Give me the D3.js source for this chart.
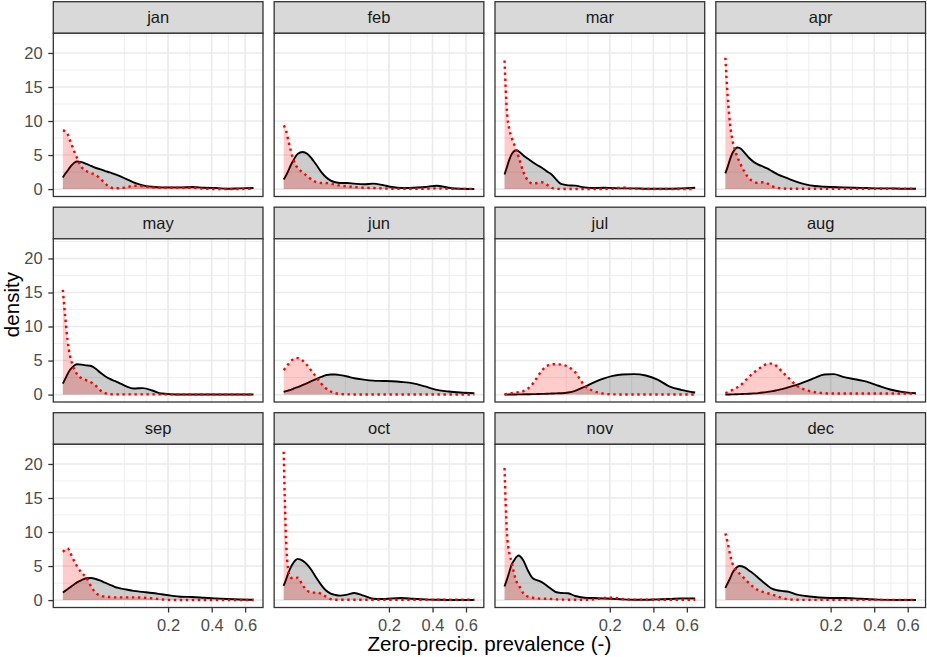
<!DOCTYPE html>
<html>
<head>
<meta charset="utf-8">
<script src="https://cdn.jsdelivr.net/npm/d3@7"></script>
<style>
  body { margin: 0; background: #fff; }
  text { font-family: "Liberation Sans", Arial, sans-serif; }
</style>
</head>
<body>
<script>
const months = ['jan', 'feb', 'mar', 'apr', 'may', 'jun', 'jul', 'aug', 'sep', 'oct', 'nov', 'dec'];

// x positions the densities were read at (zero-precip. prevalence)
const prevalence = [0, 0.0001, 0.0004, 0.0009, 0.0016, 0.0025, 0.0036, 0.0064, 0.01, 0.0144,
  0.0196, 0.0256, 0.0324, 0.04, 0.0484, 0.0576, 0.0729, 0.09, 0.1156, 0.1444,
  0.1764, 0.2116, 0.25, 0.3025, 0.36, 0.4225, 0.49, 0.5625, 0.6561];

const xTicks = [0.2, 0.4, 0.6];
const yTicks = [0, 5, 10, 15, 20];

// black solid curves, one list per month
const solidDensity = [
  [1.7, 2.25, 2.7, 3.2, 3.6, 3.9, 4.05, 3.95, 3.7, 3.4, 3.1, 2.9, 2.65, 2.45, 2.2, 1.95, 1.45, 1.0, 0.55, 0.35, 0.25, 0.25, 0.25, 0.3, 0.2, 0.15, 0.05, 0.1, 0.15],
  [1.4, 2.0, 2.7, 3.5, 4.15, 4.75, 5.2, 5.45, 5.2, 4.45, 3.5, 2.5, 1.75, 1.25, 1.0, 0.9, 0.9, 0.8, 0.7, 0.8, 0.6, 0.3, 0.15, 0.2, 0.3, 0.5, 0.2, 0.05, 0.02],
  [2.15, 3.2, 4.3, 5.1, 5.55, 5.7, 5.55, 4.95, 4.45, 3.95, 3.5, 3.1, 2.6, 2.15, 1.4, 0.75, 0.55, 0.5, 0.25, 0.15, 0.2, 0.15, 0.1, 0.1, 0.05, 0.05, 0.05, 0.1, 0.2],
  [2.3, 3.3, 4.4, 5.3, 5.8, 6.1, 6.05, 5.4, 4.6, 4.0, 3.6, 3.3, 3.0, 2.6, 2.2, 1.9, 1.5, 1.1, 0.7, 0.45, 0.35, 0.3, 0.25, 0.2, 0.15, 0.1, 0.1, 0.05, 0.05],
  [1.6, 2.3, 3.0, 3.6, 4.0, 4.3, 4.45, 4.4, 4.3, 4.2, 3.8, 3.2, 2.7, 2.3, 2.0, 1.7, 1.2, 0.9, 0.95, 0.6, 0.15, 0.05, 0.02, 0.02, 0.02, 0.02, 0.02, 0.02, 0.02],
  [0.4, 0.5, 0.6, 0.7, 0.85, 1.0, 1.1, 1.4, 1.7, 2.0, 2.3, 2.6, 2.85, 2.95, 2.95, 2.85, 2.65, 2.4, 2.2, 2.05, 2.0, 1.95, 1.85, 1.65, 1.2, 0.7, 0.45, 0.3, 0.2],
  [0, 0, 0.01, 0.01, 0.02, 0.02, 0.03, 0.04, 0.05, 0.06, 0.08, 0.1, 0.12, 0.15, 0.18, 0.2, 0.3, 0.55, 1.15, 1.8, 2.35, 2.75, 2.95, 3.0, 2.8, 2.2, 1.2, 0.7, 0.3],
  [0, 0.01, 0.02, 0.03, 0.04, 0.05, 0.07, 0.1, 0.13, 0.17, 0.22, 0.3, 0.4, 0.5, 0.65, 0.8, 1.1, 1.4, 1.9, 2.45, 2.95, 3.0, 2.6, 2.25, 1.9, 1.3, 0.75, 0.4, 0.2],
  [1.1, 1.35, 1.6, 1.85, 2.1, 2.35, 2.6, 2.95, 3.2, 3.25, 3.1, 2.85, 2.55, 2.25, 1.95, 1.75, 1.55, 1.35, 1.2, 1.05, 0.85, 0.65, 0.5, 0.45, 0.35, 0.25, 0.15, 0.08, 0.05],
  [2.1, 3.0, 4.0, 4.8, 5.4, 5.85, 6.05, 5.8, 5.2, 4.3, 3.2, 2.2, 1.4, 0.95, 0.75, 0.65, 0.8, 1.05, 0.65, 0.2, 0.15, 0.25, 0.3, 0.2, 0.1, 0.05, 0.02, 0.01, 0.01],
  [2.0, 3.0, 4.1, 5.2, 5.8, 6.3, 6.55, 5.8, 4.3, 3.2, 2.9, 2.6, 2.1, 1.6, 1.15, 1.05, 1.0, 0.6, 0.35, 0.3, 0.25, 0.2, 0.1, 0.05, 0.05, 0.1, 0.15, 0.25, 0.25],
  [1.8, 2.5, 3.2, 4.0, 4.5, 4.85, 5.0, 4.85, 4.35, 3.85, 3.25, 2.65, 2.1, 1.65, 1.45, 1.35, 1.2, 0.85, 0.6, 0.45, 0.35, 0.3, 0.3, 0.25, 0.15, 0.06, 0.03, 0.02, 0.02]
];

// red dotted curves, one list per month
const dottedDensity = [
  [8.6, 8.5, 8.1, 7.2, 6.3, 5.4, 4.6, 3.2, 2.65, 2.35, 2.05, 1.5, 0.8, 0.3, 0.1, 0.15, 0.25, 0.5, 0.4, 0.25, 0.2, 0.2, 0.2, 0.2, 0.05, 0.02, 0.02, 0.02, 0.05],
  [9.35, 8.6, 7.1, 5.7, 4.45, 3.6, 3.1, 2.45, 1.9, 1.35, 1.0, 0.9, 0.9, 0.8, 0.65, 0.5, 0.4, 0.3, 0.2, 0.15, 0.1, 0.05, 0.05, 0.05, 0.05, 0.1, 0.05, 0.03, 0.03],
  [18.9, 11.5, 8.85, 7.6, 6.65, 5.75, 4.7, 2.5, 1.25, 0.8, 0.9, 1.0, 0.65, 0.2, 0.03, 0.02, 0.02, 0.02, 0.02, 0.02, 0.02, 0.05, 0.25, 0.05, 0.02, 0.02, 0.02, 0.02, 0.02],
  [19.3, 13.5, 9.5, 7.2, 5.8, 4.8, 4.0, 2.6, 1.6, 1.1, 0.9, 1.0, 0.8, 0.4, 0.2, 0.1, 0.05, 0.05, 0.05, 0.05, 0.05, 0.05, 0.05, 0.05, 0.05, 0.05, 0.05, 0.05, 0.05],
  [15.4, 11.5, 8.0, 5.8, 4.5, 3.6, 3.0, 2.4, 2.1, 1.8, 1.3, 0.6, 0.2, 0.05, 0.03, 0.03, 0.03, 0.03, 0.03, 0.03, 0.03, 0.03, 0.03, 0.03, 0.03, 0.03, 0.03, 0.03, 0.03],
  [3.6, 4.0, 4.5, 4.9, 5.2, 5.35, 5.35, 5.0, 4.3, 3.4, 2.5, 1.6, 0.9, 0.45, 0.2, 0.08, 0.03, 0.02, 0.02, 0.02, 0.02, 0.02, 0.02, 0.02, 0.02, 0.02, 0.02, 0.02, 0.02],
  [0.05, 0.1, 0.15, 0.2, 0.25, 0.3, 0.35, 0.5, 0.9, 1.6, 2.6, 3.6, 4.2, 4.45, 4.45, 4.4, 4.1, 3.3, 1.3, 0.5, 0.15, 0.03, 0.02, 0.02, 0.02, 0.02, 0.02, 0.02, 0.02],
  [0.2, 0.35, 0.5, 0.7, 0.85, 1.05, 1.25, 1.9, 2.6, 3.2, 3.75, 4.2, 4.55, 4.55, 4.1, 3.4, 2.4, 1.4, 0.7, 0.35, 0.2, 0.15, 0.15, 0.15, 0.15, 0.15, 0.15, 0.15, 0.15],
  [7.1, 7.4, 7.6, 7.1, 6.3, 5.6, 5.0, 4.0, 3.3, 2.0, 1.05, 0.65, 0.5, 0.45, 0.4, 0.4, 0.4, 0.4, 0.35, 0.25, 0.1, 0.02, 0.02, 0.02, 0.02, 0.02, 0.02, 0.02, 0.02],
  [21.8, 9.0, 4.3, 3.3, 3.2, 3.2, 3.3, 2.2, 1.4, 1.1, 1.1, 0.9, 0.5, 0.15, 0.05, 0.05, 0.05, 0.05, 0.05, 0.05, 0.05, 0.05, 0.05, 0.05, 0.05, 0.05, 0.05, 0.05, 0.05],
  [19.4, 10.0, 7.0, 5.6, 4.0, 2.8, 2.2, 1.0, 0.5, 0.35, 0.25, 0.2, 0.2, 0.15, 0.1, 0.08, 0.05, 0.05, 0.05, 0.1, 0.3, 0.35, 0.15, 0.05, 0.05, 0.05, 0.05, 0.05, 0.05],
  [9.8, 8.4, 6.7, 5.4, 4.7, 4.2, 3.9, 3.2, 2.5, 1.9, 1.45, 1.2, 1.0, 0.8, 0.55, 0.3, 0.1, 0.05, 0.03, 0.03, 0.03, 0.03, 0.03, 0.03, 0.03, 0.03, 0.03, 0.03, 0.03]
];

const width = 927, height = 657;
const svg = d3.select(document.body).append('svg')
  .attr('width', width)
  .attr('height', height);

svg.append('rect').attr('width', width).attr('height', height).attr('fill', '#fff');

const nCol = 4;
const panelW = 209.7, panelH = 163.2, stripH = 31.6;
const left0 = 53.3, colStep = 220.85;
const top0 = 1.7, rowStep = 205.5;
const tickFont = 16.5, titleFont = 20.6;

// ggplot-like 5% expansion on both scales
const xMax = d3.max(prevalence);
const yMax = d3.max(solidDensity.concat(dottedDensity).flat());
const xPad = panelW * 0.05 / 1.1;
const yPad = panelH * 0.05 / 1.1;
const x = d3.scaleSqrt().domain([0, xMax]).range([xPad, panelW - xPad]);
const y = d3.scaleLinear().domain([0, yMax]).range([panelH - yPad, yPad]);

// minor breaks, midway between majors in transformed space
const sMaj = xTicks.map(Math.sqrt);
const sExt = [sMaj[0] - (sMaj[1] - sMaj[0])].concat(sMaj);
var xMinor = [];
for (var i = 0; i < sExt.length - 1; i++) {
  xMinor.push(sExt[i] * sExt[i], Math.pow((sExt[i] + sExt[i + 1]) / 2, 2));
}
xMinor = xMinor.filter(v => xTicks.indexOf(v) < 0 && x(v) > 0 && x(v) < panelW);
const yMinor = yTicks.map(v => v + 2.5).filter(v => y(v) > 0);

const area = d3.area()
  .x((d, i) => x(prevalence[i]))
  .y0(y(0))
  .y1(d => y(d))
  .curve(d3.curveMonotoneX);
const line = d3.line()
  .x((d, i) => x(prevalence[i]))
  .y(d => y(d))
  .curve(d3.curveMonotoneX);

months.forEach(function(m, k) {
  const col = k % nCol, row = Math.floor(k / nCol);
  const px = left0 + col * colStep;
  const py = top0 + row * rowStep + stripH;
  const g = svg.append('g').attr('transform', `translate(${px}, ${py})`);

  // strip
  g.append('rect')
    .attr('x', 0).attr('y', -stripH)
    .attr('width', panelW).attr('height', stripH)
    .attr('fill', '#d9d9d9')
    .attr('stroke', '#333333')
    .attr('stroke-width', 1.3);
  g.append('text')
    .attr('x', panelW / 2).attr('y', -stripH / 2)
    .attr('dy', '0.35em')
    .attr('text-anchor', 'middle')
    .attr('font-size', tickFont)
    .attr('fill', '#1a1a1a')
    .text(m);

  // grid
  g.append('rect').attr('width', panelW).attr('height', panelH).attr('fill', '#fff');
  g.selectAll('.ymin').data(yMinor).enter().append('line')
    .attr('x1', 0).attr('x2', panelW)
    .attr('y1', d => y(d)).attr('y2', d => y(d))
    .attr('stroke', '#ebebeb').attr('stroke-width', 0.8);
  g.selectAll('.xmin').data(xMinor).enter().append('line')
    .attr('y1', 0).attr('y2', panelH)
    .attr('x1', d => x(d)).attr('x2', d => x(d))
    .attr('stroke', '#ebebeb').attr('stroke-width', 0.8);
  g.selectAll('.ymaj').data(yTicks).enter().append('line')
    .attr('x1', 0).attr('x2', panelW)
    .attr('y1', d => y(d)).attr('y2', d => y(d))
    .attr('stroke', '#ebebeb').attr('stroke-width', 1.6);
  g.selectAll('.xmaj').data(xTicks).enter().append('line')
    .attr('y1', 0).attr('y2', panelH)
    .attr('x1', d => x(d)).attr('x2', d => x(d))
    .attr('stroke', '#ebebeb').attr('stroke-width', 1.6);

  // densities: black first, red on top
  g.append('path').attr('d', area(solidDensity[k]))
    .attr('fill', 'black').attr('fill-opacity', 0.2);
  g.append('path').attr('d', line(solidDensity[k]))
    .attr('fill', 'none').attr('stroke', 'black').attr('stroke-width', 1.9);
  g.append('path').attr('d', area(dottedDensity[k]))
    .attr('fill', 'red').attr('fill-opacity', 0.2);
  g.append('path').attr('d', line(dottedDensity[k]))
    .attr('fill', 'none').attr('stroke', 'red').attr('stroke-width', 2.4)
    .attr('stroke-dasharray', '2.4,3.6');

  g.append('rect').attr('width', panelW).attr('height', panelH)
    .attr('fill', 'none').attr('stroke', '#333333').attr('stroke-width', 1.3);

  if (col === 0) {
    const ay = g.append('g')
      .call(d3.axisLeft(y).tickValues(yTicks).tickSize(5).tickPadding(5.6));
    ay.select('.domain').remove();
    ay.selectAll('line').attr('stroke', '#333333').attr('stroke-width', 1.3);
    ay.selectAll('text').attr('fill', '#4d4d4d').attr('font-size', tickFont)
      .attr('font-family', '"Liberation Sans", Arial, sans-serif');
  }
  if (row === 2) {
    const ax = g.append('g').attr('transform', `translate(0, ${panelH})`)
      .call(d3.axisBottom(x).tickValues(xTicks).tickFormat(d3.format('.1f'))
        .tickSize(5).tickPadding(7));
    ax.select('.domain').remove();
    ax.selectAll('line').attr('stroke', '#333333').attr('stroke-width', 1.3);
    ax.selectAll('text').attr('fill', '#4d4d4d').attr('font-size', tickFont)
      .attr('font-family', '"Liberation Sans", Arial, sans-serif');
  }
});

const plotLeft = left0, plotRight = left0 + (nCol - 1) * colStep + panelW;
const plotBottom = top0 + 2 * rowStep + stripH + panelH;

svg.append('text')
  .attr('x', (plotLeft + plotRight) / 2).attr('y', 651.4)
  .attr('text-anchor', 'middle')
  .attr('font-size', titleFont)
  .attr('fill', 'black')
  .text('Zero-precip. prevalence (-)');

svg.append('text')
  .attr('transform', `translate(18.5, ${(top0 + plotBottom) / 2}) rotate(-90)`)
  .attr('text-anchor', 'middle')
  .attr('font-size', titleFont)
  .attr('fill', 'black')
  .text('density');
</script>
</body>
</html>
